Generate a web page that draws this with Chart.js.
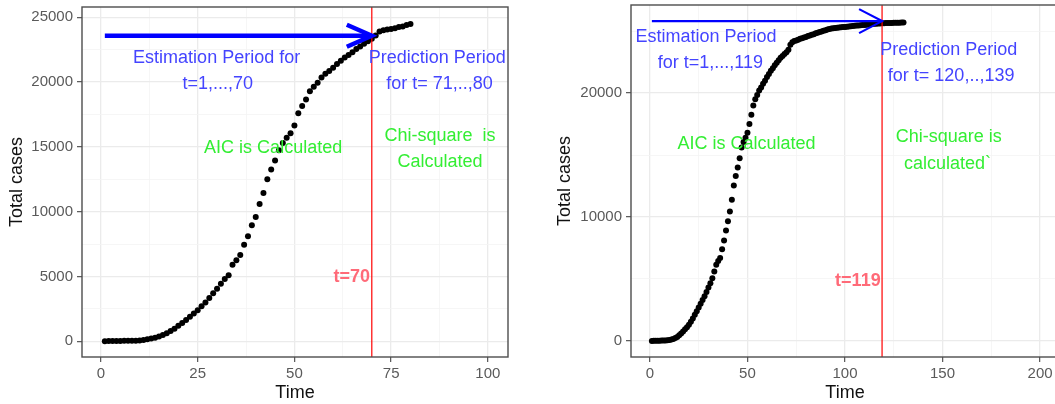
<!DOCTYPE html>
<html>
<head>
<meta charset="utf-8">
<script src="https://cdn.jsdelivr.net/npm/chart.js@4/dist/chart.umd.min.js"></script>
<style>
    html, body { margin: 0; padding: 0; background: #fff; overflow: hidden; width: 1055px; height: 404px; }
    #leftChart { position: absolute; left: 0; top: 0; }
    #rightChart { position: absolute; left: 530px; top: 0; }
</style>
</head>
<body>
<canvas id="leftChart" width="530" height="404"></canvas>
<canvas id="rightChart" width="532" height="404"></canvas>
<script>
// Total cases by day (t = 1, 2, ...)
const leftCases = [
    10, 15, 20, 25, 30, 35, 40, 45, 50, 70,
    110, 150, 210, 280, 370, 480, 620, 800, 960, 1200,
    1420, 1640, 1900, 2150, 2400, 2700, 3000, 3350, 3700, 4050,
    4450, 4800, 5100, 5900, 6250, 6650, 7450, 8100, 8950, 9600,
    10600, 11450, 12500, 13250, 13950, 14750, 15300, 15700, 16050, 16650,
    17600, 18150, 18650, 19300, 19650, 19950, 20350, 20650, 20850, 21100,
    21400, 21650, 21900, 22100, 22300, 22550, 22750, 22950, 23150, 23350,
    23600, 23900, 24000, 24050, 24100, 24150, 24250, 24300, 24400, 24480
];
const rightCases = [
    0, 5, 10, 15, 20, 25, 30, 40, 55, 75,
    110, 160, 230, 320, 450, 590, 750, 930, 1100, 1300,
    1550, 1800, 2100, 2400, 2700, 3000, 3300, 3600, 3950, 4300,
    4650, 5050, 5600, 6150, 6450, 6700, 7400, 8100, 8900, 9650,
    10450, 11400, 12550, 13300, 14000, 14750, 15600, 16050, 16400, 16800,
    17500, 18250, 19000, 19500, 19850, 20200, 20450, 20750, 21000, 21300,
    21550, 21800, 22000, 22250, 22450, 22650, 22850, 23000, 23150, 23300,
    23500, 23900, 24100, 24200, 24250, 24300, 24380, 24430, 24480, 24530,
    24600, 24650, 24700, 24750, 24820, 24870, 24930, 24980, 25030, 25080,
    25130, 25180, 25220, 25240, 25260, 25280, 25300, 25320, 25330, 25340,
    25360, 25380, 25400, 25420, 25440, 25450, 25460, 25480, 25490, 25500,
    25510, 25530, 25550, 25570, 25590, 25600, 25610, 25620, 25630, 25640,
    25650, 25650, 25660, 25660, 25670, 25670, 25680, 25680, 25690, 25700
];

// axis ticks (major ones get labels, minor ones only a light grid line)
const leftXTicks = [0, 25, 50, 75, 100];
const leftXMinor = [12.5, 37.5, 62.5, 87.5];
const leftYTicks = [0, 5000, 10000, 15000, 20000, 25000];
const leftYMinor = [2500, 7500, 12500, 17500, 22500];
const rightXTicks = [0, 50, 100, 150, 200];
const rightXMinor = [25, 75, 125, 175];
const rightYTicks = [0, 10000, 20000];
const rightYMinor = [5000, 15000, 25000];

// cut-off between estimation and prediction periods
const leftCut = 70;
const rightCut = 119;

const FONT = '"Liberation Sans", Arial, sans-serif';
const BLUE_TXT = '#4444ff';
const GREEN_TXT = '#33ee33';
const PINK_TXT = '#ff6a78';

function toPoints(arr) {
    return arr.map((v, i) => ({ x: i + 1, y: v }));
}

// draws the panel border, the cut-off line, the arrow and the text labels
const notesPlugin = {
    id: 'notes',
    afterDatasetsDraw(chart, args, opts) {
        const { ctx, chartArea: a, scales: { x, y } } = chart;
        ctx.save();

        // red vertical line at the cut-off
        const vx = x.getPixelForValue(opts.cut);
        ctx.strokeStyle = '#ff0000';
        ctx.lineWidth = 1.2;
        ctx.beginPath();
        ctx.moveTo(vx, a.top);
        ctx.lineTo(vx, a.bottom);
        ctx.stroke();

        // blue arrow with an open head
        const ar = opts.arrow;
        const x1 = x.getPixelForValue(ar.from), x2 = x.getPixelForValue(ar.to);
        const ay = y.getPixelForValue(ar.y);
        ctx.strokeStyle = '#0000ff';
        ctx.lineWidth = ar.width;
        ctx.lineCap = 'butt';
        ctx.beginPath();
        ctx.moveTo(x1, ay);
        ctx.lineTo(x2, ay);
        ctx.stroke();
        ctx.lineJoin = 'miter';
        ctx.beginPath();
        ctx.moveTo(x2 - ar.head, ay - ar.spread);
        ctx.lineTo(x2, ay);
        ctx.lineTo(x2 - ar.head, ay + ar.spread);
        ctx.stroke();

        // text labels
        ctx.textAlign = 'center';
        ctx.textBaseline = 'middle';
        opts.texts.forEach(t => {
            ctx.font = (t.bold ? 'bold ' : '') + '18px ' + FONT;
            ctx.fillStyle = t.color;
            ctx.fillText(t.text, x.getPixelForValue(t.x), y.getPixelForValue(t.y));
        });

        ctx.restore();
    },
    afterDraw(chart) {
        const { ctx, chartArea: a } = chart;
        ctx.save();
        ctx.strokeStyle = '#4d4d4d';
        ctx.lineWidth = 1.4;
        ctx.strokeRect(a.left, a.top, a.right - a.left, a.bottom - a.top);
        ctx.restore();
    }
};

function axis(opts) {
    const majors = opts.majors;
    const all = majors.concat(opts.minors).sort((p, q) => p - q);
    const isMajor = v => majors.includes(v);
    return {
        type: 'linear',
        position: opts.position,
        min: opts.min,
        max: opts.max,
        afterBuildTicks: scale => { scale.ticks = all.map(v => ({ value: v })); },
        afterFit: scale => {
            if (opts.position === 'left') scale.width = opts.size;
            else scale.height = opts.size;
            // keep the panel edges where they are in the picture
            scale.paddingTop = 0;
            scale.paddingBottom = 0;
            scale.paddingLeft = 0;
            scale.paddingRight = 0;
        },
        border: { display: false },
        grid: {
            color: c => isMajor(c.tick.value) ? '#ebebeb' : '#f4f4f4',
            lineWidth: c => isMajor(c.tick.value) ? 1.3 : 0.8,
            tickColor: c => isMajor(c.tick.value) ? '#555555' : 'rgba(0,0,0,0)',
            tickWidth: 1.2,
            tickLength: 5,
            drawTicks: true
        },
        ticks: {
            autoSkip: false,
            maxRotation: 0,
            padding: opts.position === 'left' ? 4 : 3,
            color: '#5a5a5a',
            font: { family: FONT, size: 15 },
            callback: v => isMajor(v) ? String(v) : ''
        },
        title: {
            display: true,
            text: opts.title,
            color: '#111111',
            font: { family: FONT, size: 18 },
            padding: opts.titlePad
        }
    };
}

function makeChart(id, cases, cfg) {
    return new Chart(document.getElementById(id), {
        type: 'scatter',
        data: {
            datasets: [{
                data: toPoints(cases),
                backgroundColor: '#000000',
                borderColor: '#000000',
                borderWidth: 0,
                pointRadius: 3,
                pointHoverRadius: 3
            }]
        },
        options: {
            responsive: false,
            animation: false,
            devicePixelRatio: 1,
            layout: { padding: cfg.padding },
            plugins: {
                legend: { display: false },
                tooltip: { enabled: false },
                notes: cfg.notes
            },
            scales: {
                x: axis(Object.assign({ position: 'bottom', title: 'Time', size: 47, titlePad: { top: 0, bottom: 0 } }, cfg.x)),
                y: axis(Object.assign({ position: 'left', title: 'Total cases' }, cfg.y))
            }
        },
        plugins: [notesPlugin]
    });
}

makeChart('leftChart', leftCases, {
    padding: { top: 7, right: 22, left: 0, bottom: 0 },
    x: { min: -4.9, max: 105.2, majors: leftXTicks, minors: leftXMinor },
    y: { min: -1211, max: 25795, majors: leftYTicks, minors: leftYMinor, size: 82, titlePad: { top: 6, bottom: 0 } },
    notes: {
        cut: leftCut,
        arrow: { from: 1, to: leftCut, y: 23580, width: 4.5, head: 25, spread: 11 },
        texts: [
            { text: 'Estimation Period for', x: 29.9, y: 21880, color: BLUE_TXT },
            { text: 't=1,...,70', x: 30.2, y: 19830, color: BLUE_TXT },
            { text: 'Prediction Period', x: 86.9, y: 21880, color: BLUE_TXT },
            { text: 'for t= 71,..,80', x: 87.5, y: 19830, color: BLUE_TXT },
            { text: 'AIC is Calculated', x: 44.5, y: 14940, color: GREEN_TXT },
            { text: 'Chi-square  is', x: 87.6, y: 15840, color: GREEN_TXT },
            { text: 'Calculated', x: 87.6, y: 13810, color: GREEN_TXT },
            { text: 't=70', x: 64.8, y: 4940, color: PINK_TXT, bold: true }
        ]
    }
});

makeChart('rightChart', rightCases, {
    padding: { top: 5, right: 2, left: 0, bottom: 0 },
    x: { min: -9.7, max: 209.7, majors: rightXTicks, minors: rightXMinor },
    y: { min: -1300, max: 27110, majors: rightYTicks, minors: rightYMinor, size: 101, titlePad: { top: 24, bottom: 0 } },
    notes: {
        cut: rightCut,
        arrow: { from: 1, to: rightCut, y: 25810, width: 2.2, head: 23, spread: 12 },
        texts: [
            { text: 'Estimation Period', x: 28.7, y: 24540, color: BLUE_TXT },
            { text: 'for t=1,...,119', x: 31, y: 22430, color: BLUE_TXT },
            { text: 'Prediction Period', x: 153.2, y: 23510, color: BLUE_TXT },
            { text: 'for t= 120,..,139', x: 154.4, y: 21350, color: BLUE_TXT },
            { text: 'AIC is Calculated', x: 49.5, y: 15880, color: GREEN_TXT },
            { text: 'Chi-square is', x: 153.2, y: 16480, color: GREEN_TXT },
            { text: 'calculated`', x: 152.5, y: 14260, color: GREEN_TXT },
            { text: 't=119', x: 106.6, y: 4850, color: PINK_TXT, bold: true }
        ]
    }
});
</script>
</body>
</html>
